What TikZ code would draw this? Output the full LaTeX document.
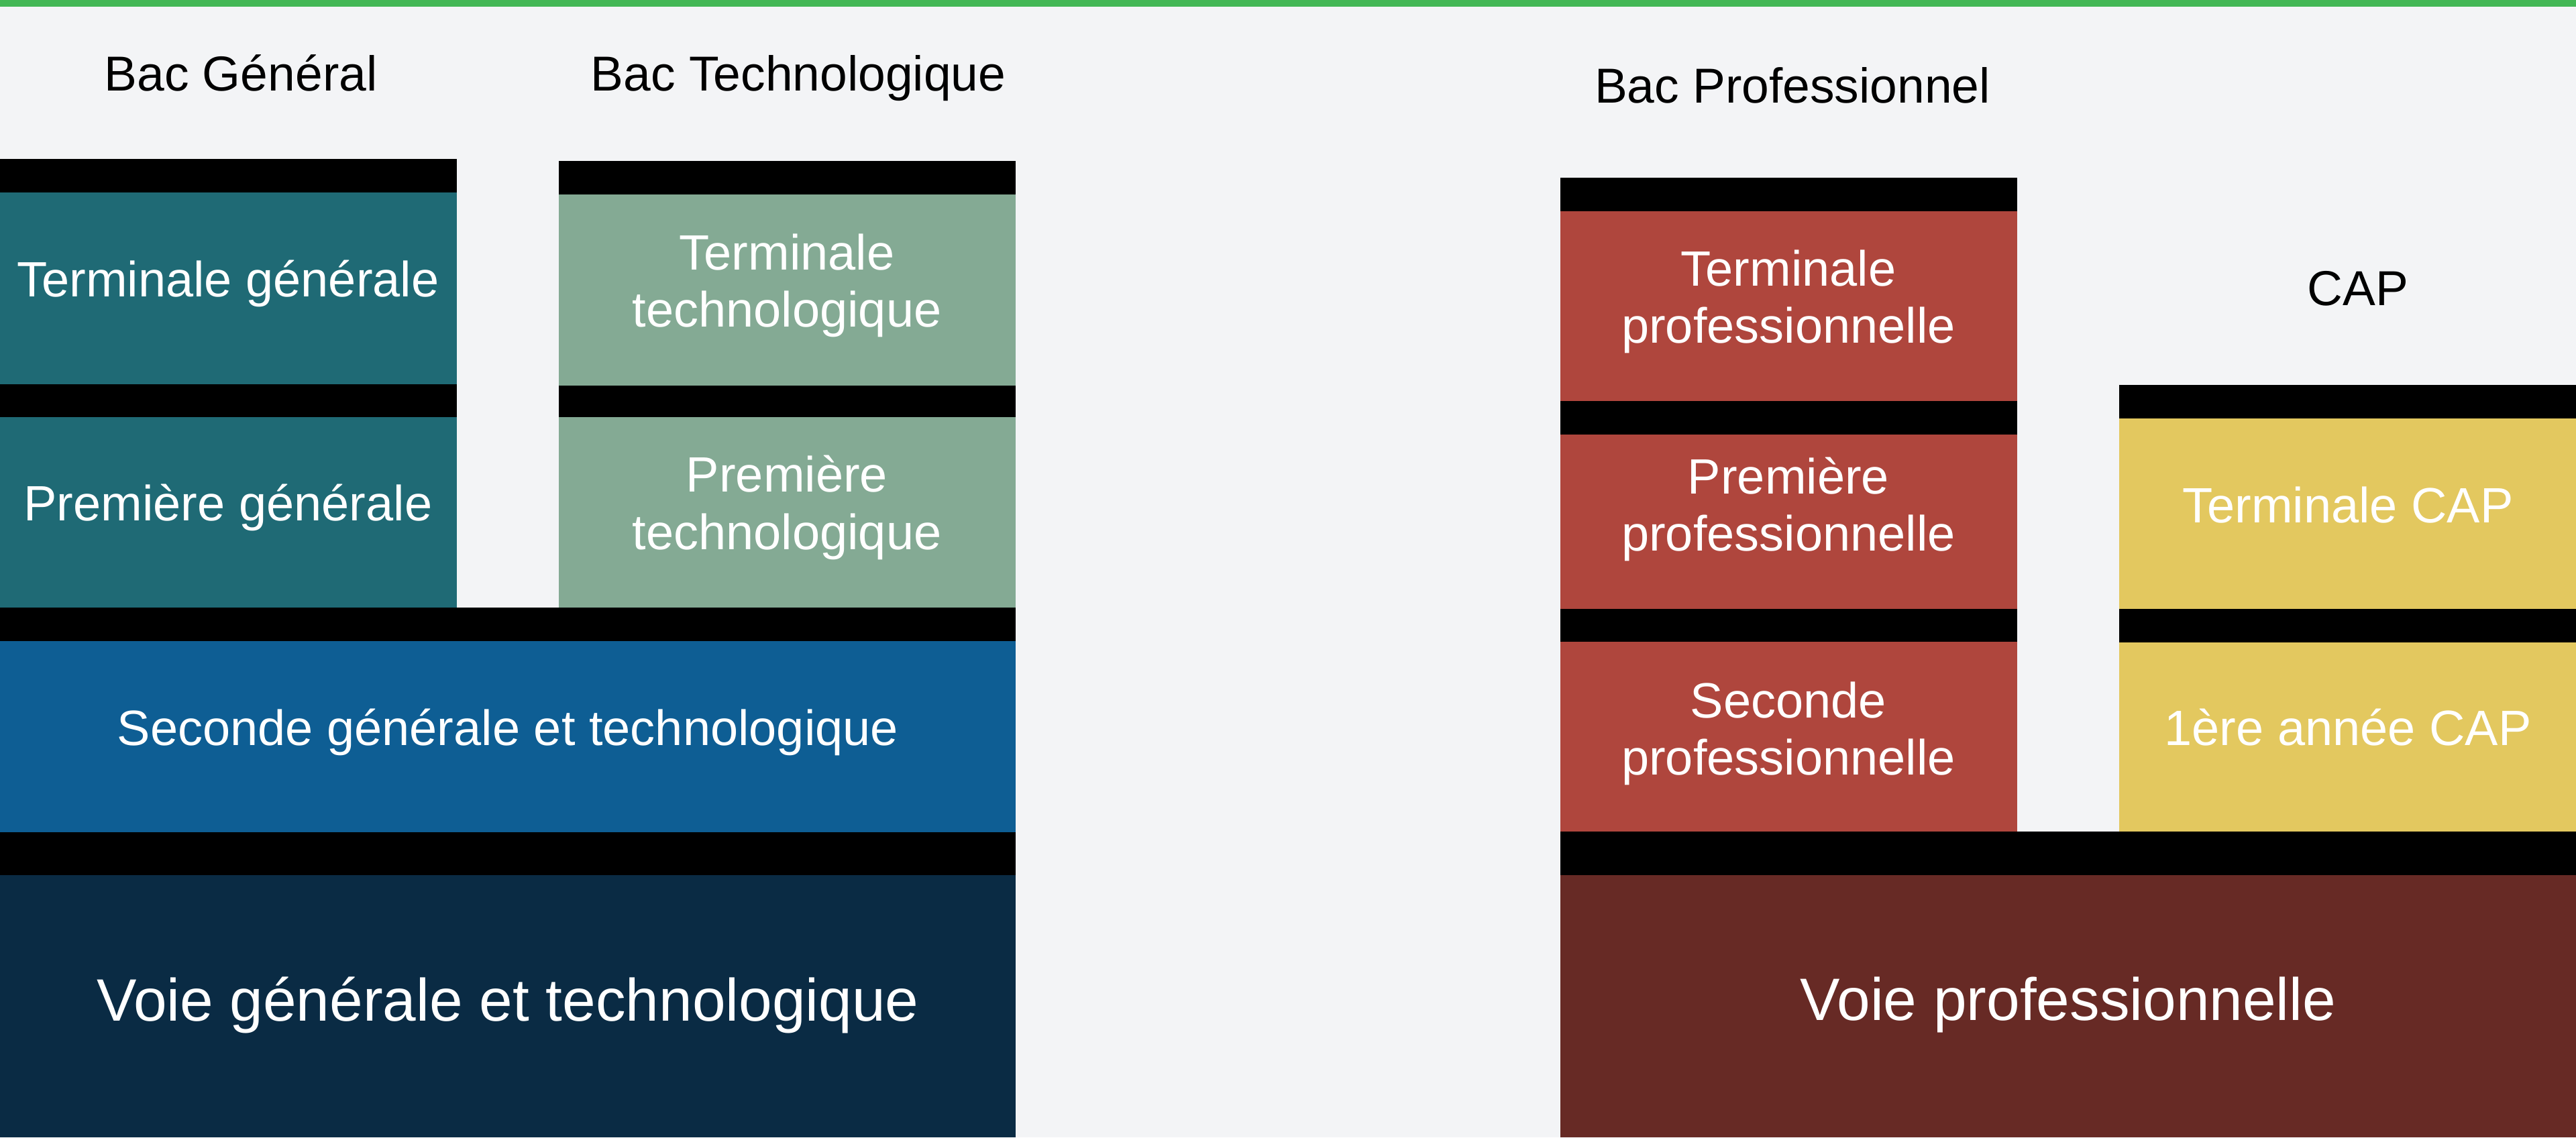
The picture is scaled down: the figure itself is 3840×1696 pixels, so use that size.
\documentclass[tikz,border=0pt]{standalone}
\usepackage{fontspec}
\setmainfont{Liberation Sans}
\definecolor{bgc}{HTML}{F3F4F6}
\definecolor{topline}{HTML}{43B755}
\definecolor{tealc}{HTML}{1F6A75}
\definecolor{sagec}{HTML}{84AA94}
\definecolor{bluec}{HTML}{0E5E94}
\definecolor{navyc}{HTML}{0A2B44}
\definecolor{redc}{HTML}{AF463D}
\definecolor{maroonc}{HTML}{672A25}
\definecolor{yellowc}{HTML}{E3C85F}
\begin{document}
\begin{tikzpicture}[x=0.25pt,y=-0.25pt,
  hdr/.style={anchor=base,inner sep=0pt,text=black,font=\fontsize{18.3}{21}\selectfont},
  btxt/.style={anchor=base,inner sep=0pt,text=white,font=\fontsize{18.5}{21}\selectfont},
  bigtxt/.style={anchor=base,inner sep=0pt,text=white,font=\fontsize{22.3}{26}\selectfont},
  bar/.style={fill=black}]
\useasboundingbox (0,0) rectangle (3840,1696);
\fill[bgc] (0,0) rectangle (3840,1696);
\fill[topline] (0,0) rectangle (3840,10);

% ---- Voie generale et technologique ----
\fill[bar] (0,237) rectangle (681,287);
\fill[tealc] (0,287) rectangle (681,573);
\fill[bar] (0,573) rectangle (681,622);
\fill[tealc] (0,622) rectangle (681,906);

\fill[bar] (833,240) rectangle (1514,290);
\fill[sagec] (833,290) rectangle (1514,575);
\fill[bar] (833,575) rectangle (1514,622);
\fill[sagec] (833,622) rectangle (1514,906);

\fill[bar] (0,906) rectangle (1514,956);
\fill[bluec] (0,956) rectangle (1514,1241);
\fill[bar] (0,1241) rectangle (1514,1305);
\fill[navyc] (0,1305) rectangle (1514,1696);

% ---- Voie professionnelle ----
\fill[bar] (2326,265) rectangle (3007,315);
\fill[redc] (2326,315) rectangle (3007,598);
\fill[bar] (2326,598) rectangle (3007,648);
\fill[redc] (2326,648) rectangle (3007,908);
\fill[bar] (2326,908) rectangle (3007,957);
\fill[redc] (2326,957) rectangle (3007,1241);

\fill[bar] (3159,574) rectangle (3840,624);
\fill[yellowc] (3159,624) rectangle (3840,908);
\fill[bar] (3159,908) rectangle (3840,958);
\fill[yellowc] (3159,958) rectangle (3840,1240);

\fill[bar] (2326,1240) rectangle (3840,1305);
\fill[maroonc] (2326,1305) rectangle (3840,1696);

% ---- headers ----
\node[hdr] (hBG) at (359,135) {Bac Général};
\node[hdr] (hBT) at (1190,135) {Bac Technologique};
\node[hdr] (hBP) at (2672,153) {Bac Professionnel};
\node[hdr] (hCAP) at (3515,455) {CAP};

% ---- box texts ----
\node[btxt] (tTG) at (340,442) {Terminale générale};
\node[btxt] (tPG) at (340,776) {Première générale};
\node[btxt] (tTT1) at (1173,402) {Terminale};
\node[btxt] (tTT2) at (1173,487) {technologique};
\node[btxt] (tPT1) at (1173,733) {Première};
\node[btxt] (tPT2) at (1173,819) {technologique};
\node[btxt] (tSG) at (757,1111) {Seconde générale et technologique};
\node[bigtxt] (tVG) at (757,1522) {Voie générale et technologique};

\node[btxt] (tTP1) at (2666,426) {Terminale};
\node[btxt] (tTP2) at (2666,511) {professionnelle};
\node[btxt] (tPP1) at (2666,736) {Première};
\node[btxt] (tPP2) at (2666,821) {professionnelle};
\node[btxt] (tSP1) at (2666,1070) {Seconde};
\node[btxt] (tSP2) at (2666,1155) {professionnelle};
\node[btxt] (tTC) at (3500,779) {Terminale CAP};
\node[btxt] (t1C) at (3500,1111) {1ère année CAP};
\node[bigtxt] (tVP) at (3083,1521) {Voie professionnelle};
\end{tikzpicture}
\end{document}
